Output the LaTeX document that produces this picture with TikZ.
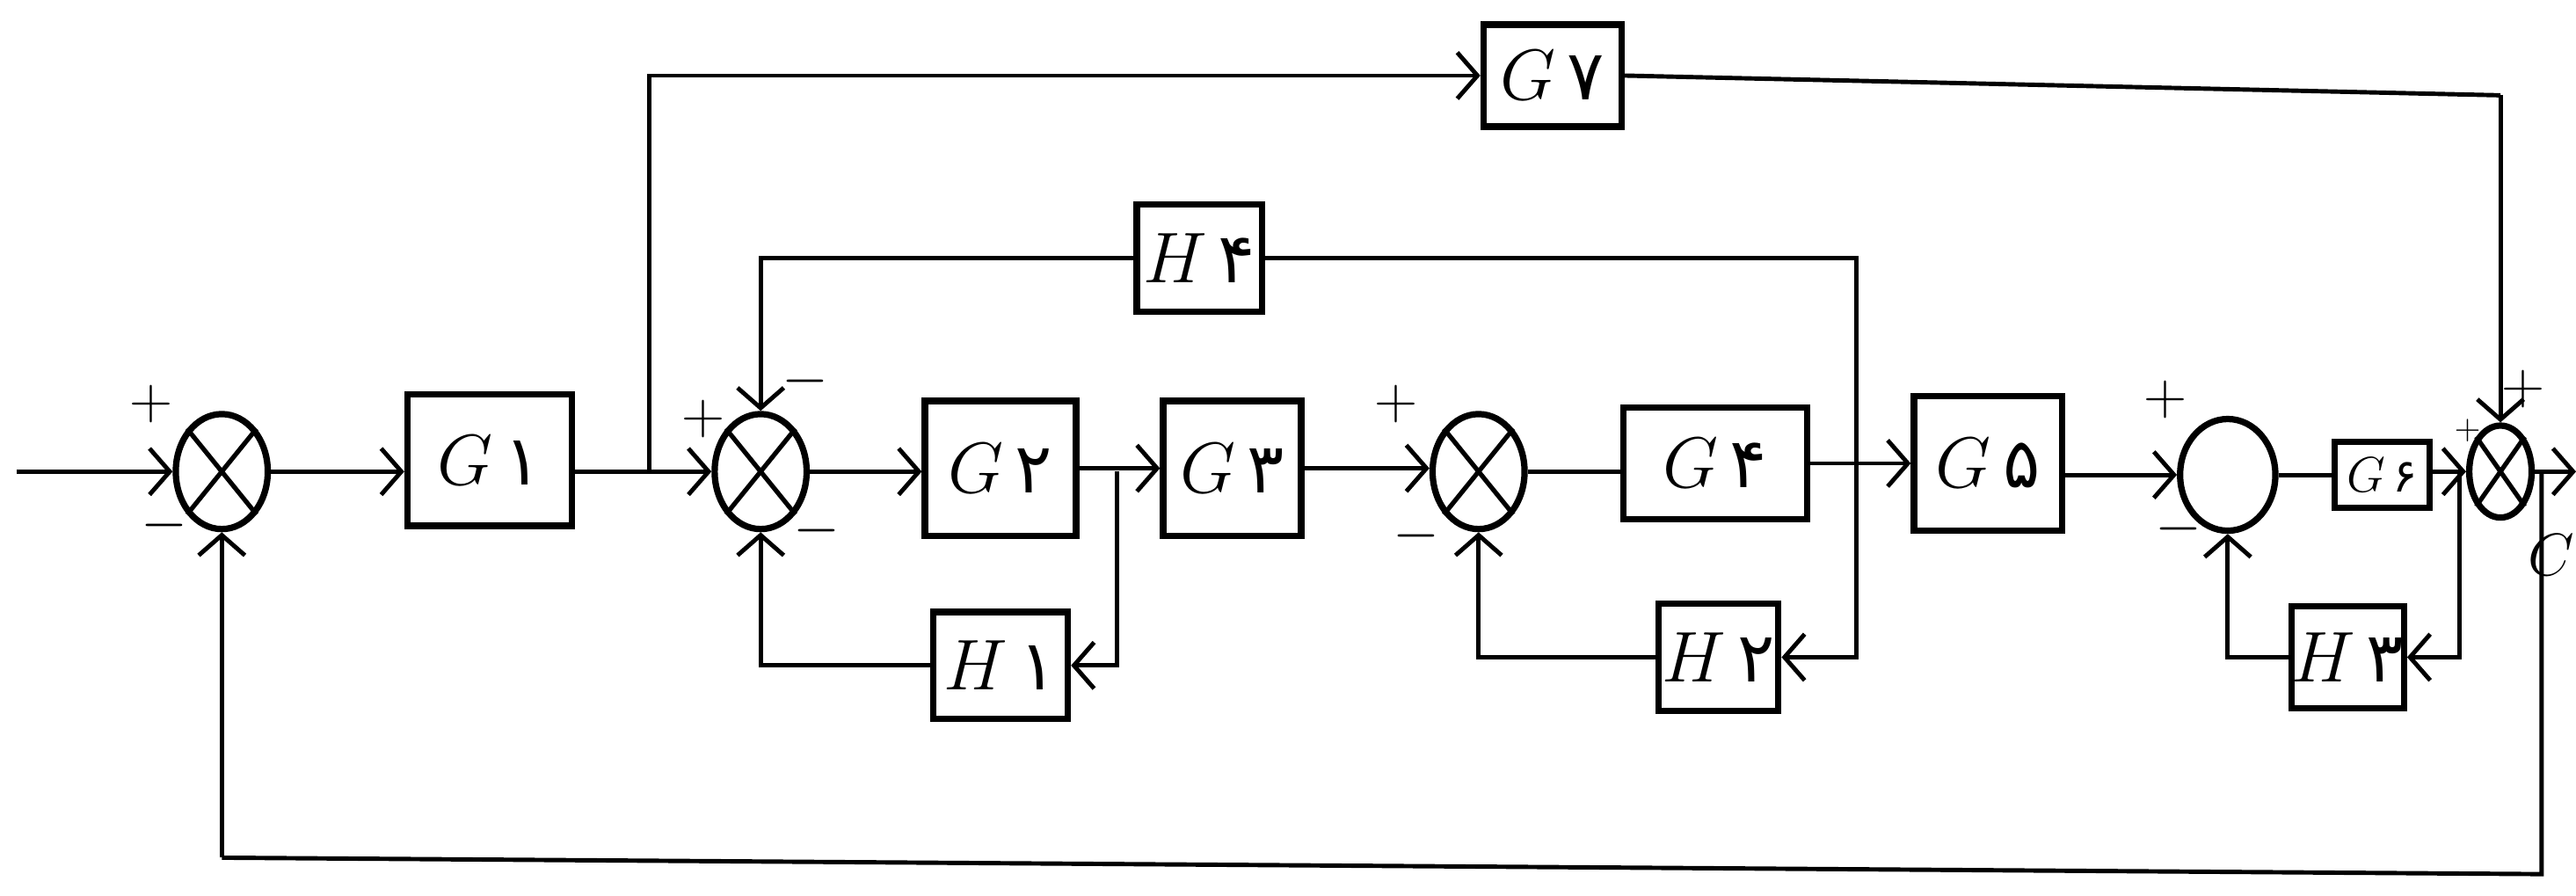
\documentclass[tikz,border=0pt]{standalone}
\usepackage{fontspec}
\newfontfamily\fa[Script=Arabic]{DejaVu Sans}
\usetikzlibrary{arrows.meta,shapes.geometric}
\begin{document}
\begin{tikzpicture}[x=0.02cm,y=-0.02cm,
  ln/.style={line width=1.5pt},
  arr/.style={ln,-{Straight Barb[length=7pt,width=16pt,line width=1.5pt]}},
  box/.style 2 args={draw,line width=2.2pt,minimum width=#1*0.02cm,minimum height=#2*0.02cm,inner sep=0pt,font=\fontsize{24}{28}\selectfont},
  sumj/.style 2 args={draw,ellipse,line width=2.2pt,minimum width=#1*0.02cm,minimum height=#2*0.02cm,inner sep=0pt},
  sg/.style={font=\fontsize{20}{24}\selectfont,inner sep=0pt}]
\useasboundingbox (0,0) rectangle (1568,545);
% summing junctions
\node[sumj={56}{70}] (S1) at (135,287) {};
\node[sumj={56}{70}] (S2) at (463,287) {};
\node[sumj={56}{70}] (S3) at (900,287) {};
\node[sumj={58}{68}] (S4) at (1356,289) {};
\node[sumj={38}{56}] (S5) at (1522,287) {};
\foreach \s in {S1,S2,S3,S5}{
  \draw[line width=1.6pt] (\s.north west) -- (\s.south east) (\s.north east) -- (\s.south west);}
% blocks
\node[box={100}{80}] (G1) at (298,280) {$G$\,{\fa ۱}};
\node[box={92}{82}] (G2) at (609,285) {$G$\,{\fa ۲}};
\node[box={84}{82}] (G3) at (750,285) {$G$\,{\fa ۳}};
\node[box={112}{68}] (G4) at (1044,282) {$G$\,{\fa ۴}};
\node[box={90}{82}] (G5) at (1210,282) {$G$\,{\fa ۵}};
\node[box={58}{40},font=\fontsize{16}{19}\selectfont] (G6) at (1450,289) {$G$\,{\fa ۶}};
\node[box={84}{62}] (G7) at (945,46) {$G$\,{\fa ۷}};
\node[box={82}{65}] (H1) at (609,405) {$H$\,{\fa ۱}};
\node[box={73}{65}] (H2) at (1046,400) {$H$\,{\fa ۲}};
\node[box={58}{62}] (H3) at (1429,400) {$H$\,{\fa ۳}};
\node[box={76}{65}] (H4) at (730,157) {$H$\,{\fa ۴}};
% coordinates
\coordinate (in) at (10,287);
\coordinate (out) at (1568,287);
\coordinate (b1) at (395,287);
\coordinate (p2) at (680,287);
\coordinate (p4) at (1130,287);
\coordinate (p6) at (1497,287);
\coordinate (pC) at (1547,287);
\coordinate (c7) at (1522,58);
\coordinate (fbr) at (1547,532);
\coordinate (fbl) at (135,522);
% main path
\draw[arr] (in) -- (S1.west);
\draw[arr] (S1.east) -- (S1.east -| G1.west);
\draw[arr] (G1.east |- S2.west) -- (S2.west);
\draw[arr] (S2.east) -- (S2.east -| G2.west);
\draw[arr] (G2.east) -- (G3.west);
\draw[arr] (G3.east) -- (G3.east -| S3.west);
\draw[ln] (S3.east) -- (S3.east -| G4.west);
\draw[arr] (G4.east |- G5.west) -- (G5.west);
\draw[arr] (G5.east |- S4.west) -- (S4.west);
\draw[ln] (S4.east) -- (G6.west);
\draw[arr] (G6.east |- S5.west) -- (S5.west);
\draw[arr] (S5.east) -- (out);
% feedforward G7
\draw[arr] (b1) |- (G7.west);
\draw[ln] (G7.east) -- (c7);
\draw[arr] (c7) -- (S5.north);
% H4 loop
\draw[ln] (p4) |- (H4.east);
\draw[arr] (H4.west) -| (S2.north);
% H1 loop
\draw[arr] (p2) |- (H1.east);
\draw[arr] (H1.west) -| (S2.south);
% H2 loop
\draw[arr] (p4) |- (H2.east);
\draw[arr] (H2.west) -| (S3.south);
% H3 loop
\draw[arr] (p6) |- (H3.east);
\draw[arr] (H3.west) -| (S4.south);
% main feedback
\draw[ln] (pC) -- (fbr) -- (fbl);
\draw[arr] (fbl) -- (S1.south);
% signs
\node[sg] (s1a) at (92,246) {$+$};
\node[sg] (s1b) at (100,320) {$-$};
\node[sg] (s2a) at (428,255) {$+$};
\node[sg] (s2b) at (490,232) {$-$};
\node[sg] (s2c) at (497,323) {$-$};
\node[sg] (s3a) at (850,246) {$+$};
\node[sg] (s3b) at (862,326) {$-$};
\node[sg] (s4a) at (1318,243) {$+$};
\node[sg] (s4b) at (1326,322) {$-$};
\node[sg,font=\fontsize{13}{15}\selectfont] (s5a) at (1502,262) {$+$};
\node[sg] (s5b) at (1536,237) {$+$};
\node[font=\fontsize{22}{26}\selectfont,inner sep=0pt] (C) at (1553,338) {$C$};
\end{tikzpicture}
\end{document}
